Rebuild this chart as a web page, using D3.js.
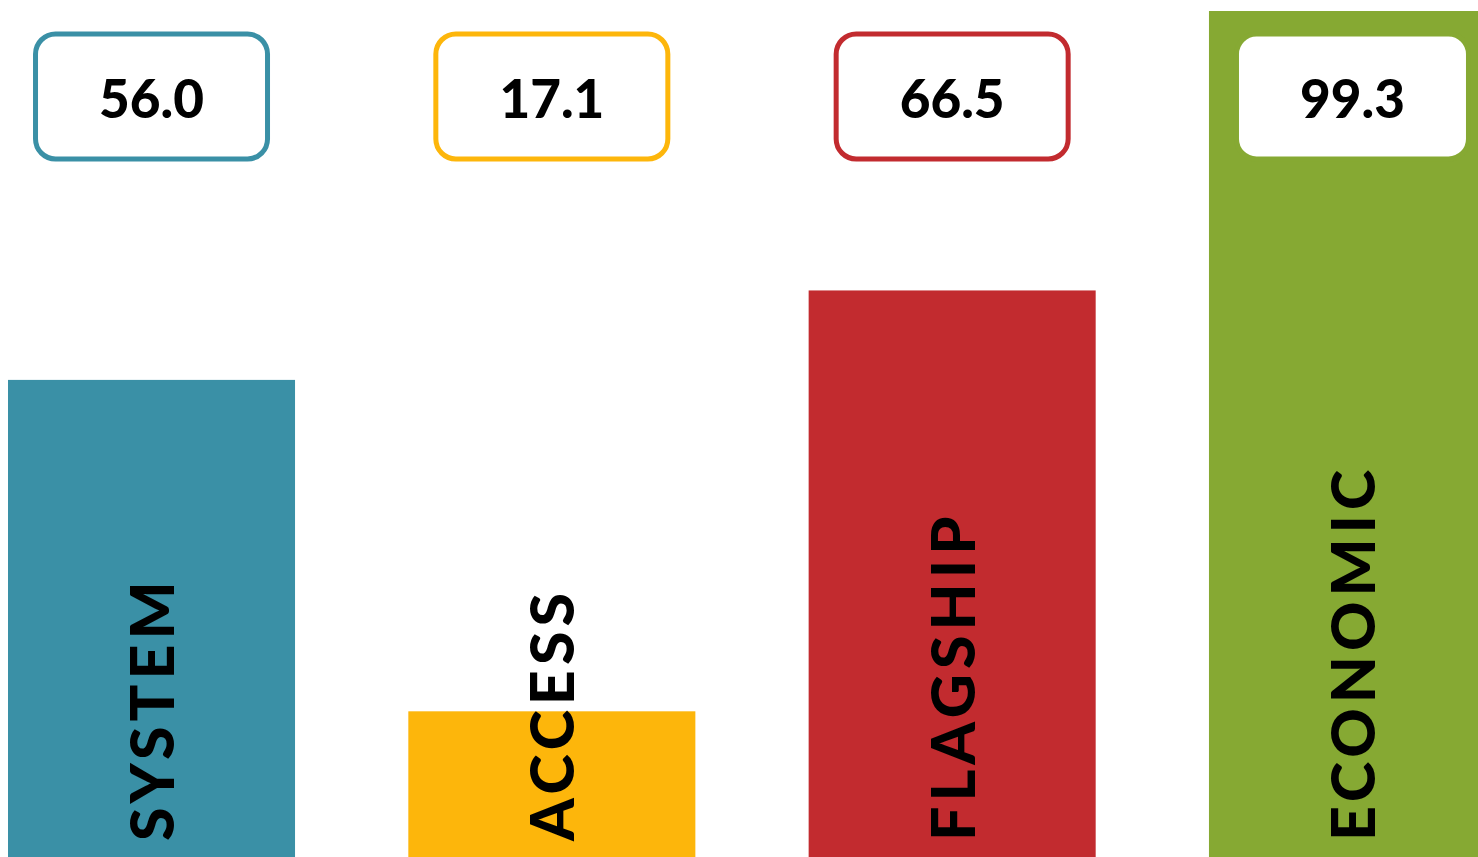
<!DOCTYPE html>
<html>
<head>
<meta charset="utf-8">
<script src="https://cdn.jsdelivr.net/npm/d3@7"></script>
<style>
  html, body { margin: 0; padding: 0; background: #ffffff; overflow: hidden; }
  svg { display: block; }
</style>
</head>
<body>
<svg id="chart" width="1478" height="857"></svg>
<script>
// ---- data ----
const categories = ["SYSTEM", "ACCESS", "FLAGSHIP", "ECONOMIC"];
const values = [56.0, 17.1, 66.5, 99.3];
const valueLabels = ["56.0", "17.1", "66.5", "99.3"];
const colors = ["#3a90a6", "#fdb60b", "#c22b2f", "#86a933"];

// ---- layout ----
const W = 1478, H = 857;
const svg = d3.select("#chart");

const x = d3.scaleBand()
  .domain(categories)
  .range([8, 1496])
  .paddingInner(0.283)
  .paddingOuter(0);

const y = d3.scaleLinear()
  .domain([0, 99.3])
  .range([H, 11]);

const data = categories.map((c, i) => ({ cat: c, v: values[i], lbl: valueLabels[i], col: colors[i] }));

// bars
svg.selectAll("rect.bar")
  .data(data)
  .join("rect")
  .attr("class", "bar")
  .attr("x", d => x(d.cat))
  .attr("y", d => y(d.v))
  .attr("width", x.bandwidth())
  .attr("height", d => y(0) - y(d.v))
  .attr("fill", d => d.col);

// category labels (rotated)
svg.selectAll("text.cat")
  .data(data)
  .join("text")
  .attr("class", "cat")
  .attr("transform", d => `translate(${x(d.cat) + x.bandwidth() / 2 + 22.5},841) rotate(-90)`)
  .attr("text-anchor", "start")
  .style("font-family", "Lato, 'DejaVu Sans', sans-serif")
  .style("font-weight", 900)
  .style("font-size", "61px")
  .style("letter-spacing", "5px")
  .attr("fill", "#000")
  .text(d => d.cat);

// value boxes
const boxW = 232, boxH = 125, boxY = 34;
const g = svg.selectAll("g.val")
  .data(data)
  .join("g")
  .attr("class", "val")
  .attr("transform", d => `translate(${x(d.cat) + x.bandwidth() / 2},0)`);

g.append("rect")
  .attr("x", -boxW / 2)
  .attr("y", boxY)
  .attr("width", boxW)
  .attr("height", boxH)
  .attr("rx", 20)
  .attr("ry", 20)
  .attr("fill", "#ffffff")
  .attr("stroke", d => d.col)
  .attr("stroke-width", 5);

g.append("text")
  .attr("x", 0)
  .attr("y", 118)
  .attr("text-anchor", "middle")
  .style("font-family", "Lato, 'DejaVu Sans', sans-serif")
  .style("font-weight", 900)
  .style("font-size", "53px")
  .attr("fill", "#000")
  .text(d => d.lbl);
</script>
</body>
</html>
